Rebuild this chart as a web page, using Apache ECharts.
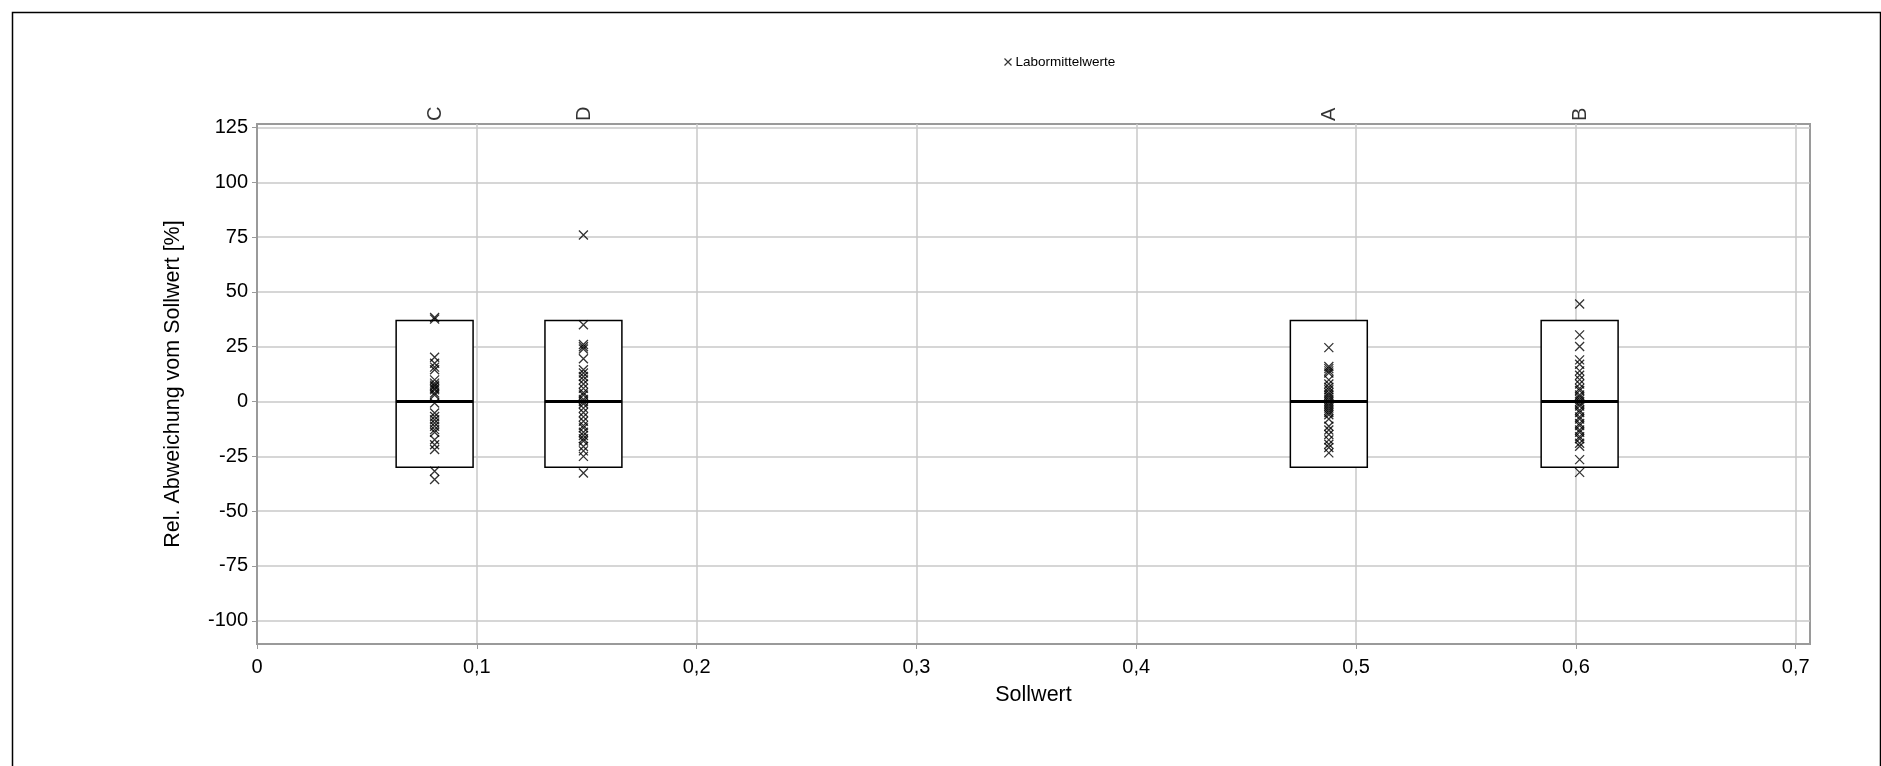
<!DOCTYPE html>
<html>
<head>
<meta charset="utf-8">
<script src="https://cdn.jsdelivr.net/npm/echarts@6/dist/echarts.min.js"></script>
<style>
html,body{margin:0;padding:0;background:#fff;}
#chart{width:1881px;height:766px;}
</style>
</head>
<body>
<div id="chart"></div>
<script>
// ---- data ----
const groupNames = ['C', 'D', 'A', 'B'];
const sollwerte = [0.0808, 0.1485, 0.4876, 0.6017];
const boxLower = [-30, -30, -30, -30];
const boxUpper = [37, 37, 37, 37];
const boxMedian = [0, 0, 0, 0];
const valuesC = [38.3, 37.6, 20.2, 17.5, 15.7, 14.5, 9.9, 8.4, 7.5, 6.9, 6.0, 5.4, 3.9, 3.0, -0.7, -5.2, -6.8, -8.3, -9.8, -11.3, -12.8, -14.0, -17.4, -19.7, -21.9, -31.8, -35.6];
const valuesD = [76.0, 35.0, 26.0, 25.0, 24.0, 19.5, 14.5, 13.0, 11.4, 9.9, 8.0, 6.0, 4.0, 3.0, 1.0, 0.0, -1.0, -3.0, -5.0, -7.0, -9.0, -11.0, -12.0, -14.0, -15.5, -17.0, -18.0, -20.5, -22.5, -25.0, -32.6];
const valuesA = [24.6, 16.0, 15.0, 14.0, 13.0, 9.9, 8.0, 6.5, 5.4, 4.0, 3.0, 2.0, 1.0, 0.0, -1.0, -2.0, -3.0, -4.0, -5.0, -6.0, -8.0, -11.3, -13.0, -15.0, -17.5, -19.5, -21.0, -23.4];
const valuesB = [44.5, 30.4, 25.1, 19.0, 17.0, 14.0, 12.0, 10.0, 8.0, 6.0, 5.0, 3.0, 2.0, 1.0, 0.0, -1.0, -2.0, -4.0, -5.0, -7.0, -8.0, -10.0, -11.0, -13.0, -14.0, -16.0, -17.0, -19.0, -20.4, -26.5, -32.3];
const groupValues = [valuesC, valuesD, valuesA, valuesB];
const xTicks = [0, 0.1, 0.2, 0.3, 0.4, 0.5, 0.6, 0.7];
const yTicks = [-100, -75, -50, -25, 0, 25, 50, 75, 100, 125];
const xMin = 0, xMax = 0.7065;
const yMin = -110.6, yMax = 126.6;
const boxWidth = 0.035;

// ---- build series data ----
const pointData = [];
groupValues.forEach((vals, i) => {
  vals.forEach(v => pointData.push([sollwerte[i], v]));
});
const boxData = sollwerte.map((x, i) => [x, boxLower[i], boxUpper[i], boxMedian[i]]);
const topLabelData = sollwerte.map((x, i) => ({ value: [x, yMax], name: groupNames[i] }));

const xSym = 'path://M0,0L10,10M10,0L0,10';
const FONT = 'Liberation Sans, Arial, sans-serif';

const chart = echarts.init(document.getElementById('chart'), null, { renderer: 'canvas' });
chart.setOption({
  backgroundColor: '#fff',
  animation: false,
  graphic: [{
    type: 'rect', left: 10, top: 10, silent: true,
    shape: { width: 1868, height: 800 },
    style: { fill: 'none', stroke: '#000', lineWidth: 1.5 }
  }],
  legend: {
    left: 997, top: 50,
    data: [{ name: 'Labormittelwerte', icon: xSym }],
    itemWidth: 7, itemHeight: 7, itemGap: 4,
    textStyle: { fontFamily: FONT, fontSize: 13.5, color: '#000', padding: [0, 0, 0, -1] },
    itemStyle: { color: 'none', borderColor: '#000', borderWidth: 1.2 }
  },
  grid: {
    left: 257, right: 71, top: 124, bottom: 122,
    show: true, borderColor: '#9a9a9a', borderWidth: 2, containLabel: false
  },
  xAxis: {
    type: 'value', min: xMin, max: xMax,
    name: 'Sollwert', nameLocation: 'middle', nameGap: 40,
    nameTextStyle: { fontFamily: FONT, fontSize: 21.5, color: '#000' },
    axisLine: { show: true, onZero: false, lineStyle: { color: '#9a9a9a', width: 2 } },
    axisTick: { show: true, length: 5, customValues: xTicks, lineStyle: { color: '#9a9a9a' } },
    axisLabel: {
      customValues: xTicks, margin: 13,
      fontFamily: FONT, fontSize: 20, color: '#000',
      formatter: v => String(Math.round(v * 10) / 10).replace('.', ',')
    },
    splitLine: { show: true, lineStyle: { color: '#c8c8c8', width: 1.5 } }
  },
  yAxis: {
    type: 'value', min: yMin, max: yMax,
    name: 'Rel. Abweichung vom Sollwert [%]', nameLocation: 'middle', nameGap: 73,
    nameTextStyle: { fontFamily: FONT, fontSize: 21.5, color: '#000' },
    axisLine: { show: true, onZero: false, lineStyle: { color: '#9a9a9a', width: 2 } },
    axisTick: { show: true, length: 5, customValues: yTicks, lineStyle: { color: '#9a9a9a' } },
    axisLabel: { customValues: yTicks, margin: 9, fontFamily: FONT, fontSize: 20, color: '#000' },
    splitLine: { show: true, lineStyle: { color: '#c8c8c8', width: 1.5 } }
  },
  series: [
    {
      name: 'Boxes', type: 'custom', z: 2,
      data: boxData,
      renderItem: (params, api) => {
        const x = api.value(0);
        const lo = api.coord([x, api.value(1)]);
        const hi = api.coord([x, api.value(2)]);
        const md = api.coord([x, api.value(3)]);
        const w = api.size([boxWidth, 0])[0];
        return {
          type: 'group',
          children: [
            { type: 'rect', shape: { x: lo[0] - w / 2, y: hi[1], width: w, height: lo[1] - hi[1] },
              style: { fill: '#fff', stroke: '#000', lineWidth: 1.5 } },
            { type: 'line', shape: { x1: md[0] - w / 2, y1: md[1], x2: md[0] + w / 2, y2: md[1] },
              style: { stroke: '#000', lineWidth: 3 } }
          ]
        };
      }
    },
    {
      name: 'Labormittelwerte', type: 'scatter', z: 3,
      data: pointData,
      symbol: xSym, symbolSize: 9,
      itemStyle: { color: 'none', borderColor: '#000', borderWidth: 1.3 }
    },
    {
      name: 'Gruppen', type: 'scatter', z: 4,
      data: topLabelData, symbolSize: 0, silent: true,
      label: {
        show: true, formatter: p => p.name, rotate: 90,
        position: 'inside', align: 'left', verticalAlign: 'middle',
        offset: [3, 1],
        fontFamily: FONT, fontSize: 20, color: '#000'
      }
    }
  ]
});
</script>
</body>
</html>
